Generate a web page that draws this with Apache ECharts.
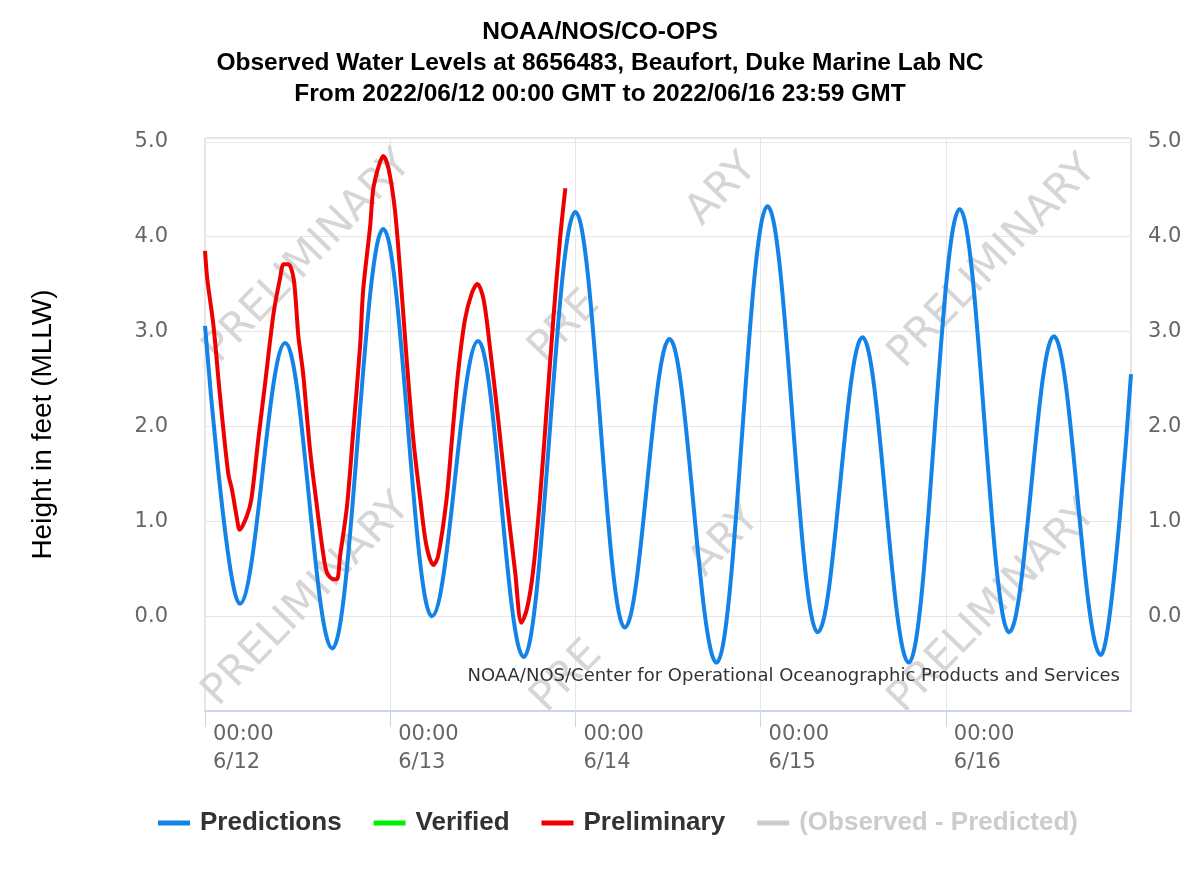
<!DOCTYPE html>
<html>
<head>
<meta charset="utf-8">
<script src="https://cdn.jsdelivr.net/npm/echarts@6/dist/echarts.min.js"></script>
<style>
  html, body { margin: 0; padding: 0; background: #fff; }
  #main { width: 1200px; height: 874px; }
</style>
</head>
<body>
<div id="main"></div>
<script>
// hours since 2022/06/12 00:00 GMT
const predHours = [0, 4.5, 10.4, 16.5, 23.1, 29.4, 35.4, 41.3, 48.0, 54.4, 60.2, 66.3, 72.9, 79.4, 85.2, 91.2, 97.8, 104.2, 110.0, 116.1, 120]
const predFeet  = [3.06, 0.13, 2.88, -0.34, 4.08, 0.00, 2.90, -0.43, 4.26, -0.12, 2.92, -0.49, 4.32, -0.17, 2.94, -0.49, 4.29, -0.17, 2.95, -0.41, 2.55]

const prelimHours = [0.0, 0.3, 1.1, 1.9, 3.0, 3.5, 4.1, 4.5, 5.4, 6.0, 6.9, 7.8, 8.9, 9.7, 10.2, 10.8, 11.5, 12.1, 12.7, 13.6, 14.5, 15.3, 15.8, 16.6, 17.1, 17.5, 18.4, 19.2, 20.1, 20.5, 21.4, 21.8, 22.5, 23.1, 23.8, 24.6, 25.3, 26.1, 27.0, 27.9, 28.7, 29.6, 30.2, 31.3, 32.0, 32.8, 33.7, 34.6, 35.3, 36.1, 36.9, 38.0, 39.1, 40.2, 41.0, 41.7, 42.5, 43.4, 44.3, 45.1, 46.0, 46.7]
const prelimFeet  = [3.85, 3.55, 3.06, 2.36, 1.51, 1.33, 1.05, 0.91, 1.05, 1.23, 1.86, 2.46, 3.20, 3.55, 3.71, 3.71, 3.55, 2.95, 2.57, 1.76, 1.16, 0.67, 0.46, 0.39, 0.39, 0.63, 1.16, 1.94, 2.85, 3.44, 4.11, 4.50, 4.74, 4.85, 4.71, 4.29, 3.62, 2.74, 1.86, 1.23, 0.74, 0.54, 0.63, 1.23, 1.86, 2.57, 3.13, 3.41, 3.50, 3.34, 2.85, 2.07, 1.23, 0.46, -0.07, 0.07, 0.46, 1.23, 2.21, 3.09, 3.97, 4.51]

const dayLabels = ['6/12', '6/13', '6/14', '6/15', '6/16']
const titleLines = [
    'NOAA/NOS/CO-OPS',
    'Observed Water Levels at 8656483, Beaufort, Duke Marine Lab NC',
    'From 2022/06/12 00:00 GMT to 2022/06/16 23:59 GMT'
]

const pairs = (xs, ys) => xs.map((x, i) => [x, ys[i]])

const wm = (x, y, text) => ({
    type: 'text', x: x, y: y, rotation: 0.8, z: 1, silent: true,
    style: { text: text, fontSize: 42, fontFamily: 'DejaVu Sans', fill: '#d6d6d6', align: 'center', verticalAlign: 'middle' }
})

const yLabel = v => (v < 0 || v > 5 ? '' : v.toFixed(1))

var myChart = echarts.init(document.getElementById('main'))
myChart.setOption({
    animation: false,
    title: {
        text: titleLines.join('\n'),
        left: 'center',
        top: 12,
        textStyle: { fontFamily: 'Liberation Sans', fontWeight: 'bold', fontSize: 24.5, lineHeight: 31, color: '#000' }
    },
    graphic: [
        wm(308, 257, 'PRELIMINARY'),
        wm(307, 600, 'PRELIMINARY'),
        wm(565, 327, 'PRE'),
        wm(722, 190, 'ARY'),
        wm(567, 677, 'PRE'),
        wm(725, 541, 'ARY'),
        wm(993, 262, 'PRELIMINARY'),
        wm(993, 607, 'PRELIMINARY'),
        {
            type: 'text', right: 80, top: 667, z: 3, silent: true,
            style: { text: 'NOAA/NOS/Center for Operational Oceanographic Products and Services', fontSize: 18, fontFamily: 'DejaVu Sans', fill: '#333' }
        }
    ],
    legend: {
        bottom: 33,
        left: 153,
        icon: 'rect',
        itemWidth: 32,
        itemHeight: 5,
        itemGap: 32,
        inactiveColor: '#cccccc',
        textStyle: { fontFamily: 'Liberation Sans', fontWeight: 'bold', fontSize: 26, color: '#333', padding: [0, 0, 0, 5] },
        data: ['Predictions', 'Verified', 'Preliminary', '(Observed - Predicted)'],
        selected: { '(Observed - Predicted)': false }
    },
    grid: {
        left: 205,
        right: 69,
        top: 138,
        bottom: 163,
        show: true,
        borderColor: '#cccccc',
        borderWidth: 1
    },
    xAxis: {
        type: 'value',
        min: 0,
        max: 120,
        interval: 24,
        axisLine: { show: true, onZero: false, lineStyle: { color: '#ccd6eb', width: 2 } },
        axisTick: { show: true, length: 16, lineStyle: { color: '#ccd6eb', width: 1 } },
        splitLine: { show: true, lineStyle: { color: '#e6e6e6' } },
        axisLabel: {
            align: 'left',
            padding: [0, 0, 0, 8],
            margin: 10,
            color: '#666',
            fontFamily: 'DejaVu Sans',
            fontSize: 21,
            lineHeight: 28,
            showMaxLabel: false,
            formatter: v => (v >= 120 ? '' : '00:00\n' + dayLabels[v / 24])
        }
    },
    yAxis: [
        {
            type: 'value',
            min: -1,
            max: 5.04,
            interval: 1,
            name: 'Height in feet (MLLW)',
            nameLocation: 'middle',
            nameGap: 148,
            nameTextStyle: { fontFamily: 'Liberation Sans', fontSize: 28, color: '#000' },
            axisLine: { show: false },
            axisTick: { show: false },
            splitLine: { show: true, lineStyle: { color: '#e6e6e6' } },
            axisLabel: { margin: 37, color: '#666', fontFamily: 'DejaVu Sans', fontSize: 21, formatter: yLabel }
        },
        {
            type: 'value',
            min: -1,
            max: 5.04,
            interval: 1,
            position: 'right',
            axisLine: { show: false },
            axisTick: { show: false },
            splitLine: { show: false },
            axisLabel: { margin: 17, color: '#666', fontFamily: 'DejaVu Sans', fontSize: 21, formatter: yLabel }
        }
    ],
    series: [
        {
            name: 'Predictions',
            type: 'line',
            data: pairs(predHours, predFeet),
            smooth: 0.36,
            smoothMonotone: 'x',
            showSymbol: false,
            color: '#1383e8',
            lineStyle: { width: 4 },
            z: 3
        },
        {
            name: 'Verified',
            type: 'line',
            data: [],
            showSymbol: false,
            color: '#00ee00',
            lineStyle: { width: 4 }
        },
        {
            name: 'Preliminary',
            type: 'line',
            data: pairs(prelimHours, prelimFeet),
            smooth: 0.3,
            showSymbol: false,
            color: '#ee0000',
            lineStyle: { width: 4 },
            z: 4
        },
        {
            name: '(Observed - Predicted)',
            type: 'line',
            data: [],
            showSymbol: false,
            color: '#cccccc',
            lineStyle: { width: 4 }
        }
    ]
})
</script>
</body>
</html>
